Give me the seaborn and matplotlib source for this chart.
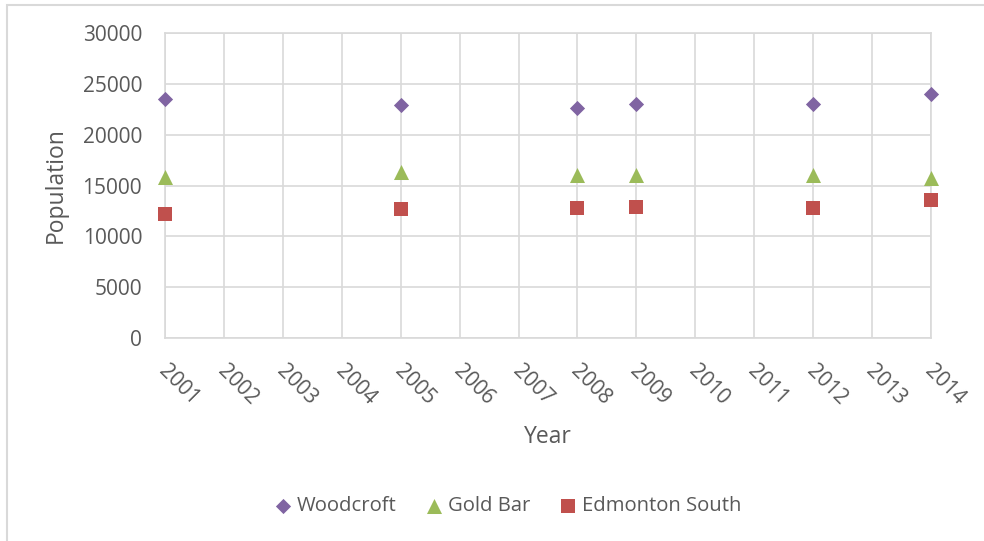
import matplotlib
matplotlib.use("Agg")
import matplotlib.pyplot as plt
from matplotlib.transforms import ScaledTranslation
from matplotlib.patches import Rectangle
import seaborn as sns
import pandas as pd

# Census years and population counts per area
years = [2001, 2005, 2008, 2009, 2012, 2014]
woodcroft = [23500, 22900, 22600, 23000, 23000, 24000]
gold_bar = [15800, 16300, 16000, 16000, 16000, 15700]
edmonton_south = [12200, 12700, 12800, 12900, 12800, 13600]
series_names = ["Woodcroft", "Gold Bar", "Edmonton South"]

year_ticks = list(range(2001, 2015))
pop_ticks = [0, 5000, 10000, 15000, 20000, 25000, 30000]

df = pd.DataFrame({
    "Year": years * 3,
    "Population": woodcroft + gold_bar + edmonton_south,
    "Area": [n for n in series_names for _ in years],
})

sns.set_style("white")
plt.rcParams["font.family"] = ["Open Sans", "DejaVu Sans"]

text_color = "#595959"
grid_color = "#d9d9d9"
colors = {"Woodcroft": "#8064A2", "Gold Bar": "#9BBB59", "Edmonton South": "#C0504D"}
markers = {"Woodcroft": "D", "Gold Bar": "^", "Edmonton South": "s"}
sizes = {"Woodcroft": 60, "Gold Bar": 117, "Edmonton South": 113}

fig = plt.figure(figsize=(9.84, 5.41), dpi=100)
ax = fig.add_axes([165 / 984, 1 - 338 / 541, 766 / 984, 305 / 541])

for name in series_names:
    sub = df[df["Area"] == name]
    sns.scatterplot(data=sub, x="Year", y="Population", color=colors[name],
                    marker=markers[name], s=sizes[name], linewidth=0,
                    label=name, ax=ax, clip_on=False, zorder=3)

ax.set_xlim(2001, 2014)
ax.set_ylim(0, 30000)
ax.set_xticks(year_ticks)
ax.set_xticklabels([str(y) for y in year_ticks])
ax.set_yticks(pop_ticks)
ax.set_yticklabels([str(v) for v in pop_ticks])
ax.grid(True, color=grid_color, lw=1.2)
ax.set_axisbelow(True)
for sp in ax.spines.values():
    sp.set_visible(True)
    sp.set_color(grid_color)
    sp.set_linewidth(1.2)

ax.tick_params(axis="both", length=0, labelsize=15, labelcolor=text_color)
ax.tick_params(axis="y", pad=16.5)
ax.tick_params(axis="x", pad=0)

shift = ScaledTranslation(-7 / 100, -34 / 100, fig.dpi_scale_trans)
for lbl in ax.get_xticklabels():
    lbl.set_rotation(-45)
    lbl.set_rotation_mode("anchor")
    lbl.set_ha("left")
    lbl.set_va("baseline")
    lbl.set_transform(lbl.get_transform() + shift)

ax.set_xlabel("Year", fontsize=16.5, color=text_color)
ax.xaxis.set_label_coords(0.5, -0.285)
ax.set_ylabel("Population", fontsize=16.5, color=text_color)
ax.yaxis.set_label_coords(-0.127, 0.5)

handles, labels = ax.get_legend_handles_labels()
ax.legend_.remove()
fig.legend(handles, labels, loc="center", bbox_to_anchor=(508 / 984, 1 - 506 / 541),
           ncol=3, frameon=False, fontsize=14.6, handlelength=0.8,
           handletextpad=0.3, columnspacing=1.45, labelcolor=text_color,
           borderpad=0, scatterpoints=1)

# light outer frame of the chart area
fig.add_artist(Rectangle((7 / 984, -0.05), 1.2, 1 - 5 / 541 + 0.05,
                         transform=fig.transFigure, fill=False,
                         edgecolor=grid_color, lw=1.5))

fig.savefig("out.png", dpi=100)
